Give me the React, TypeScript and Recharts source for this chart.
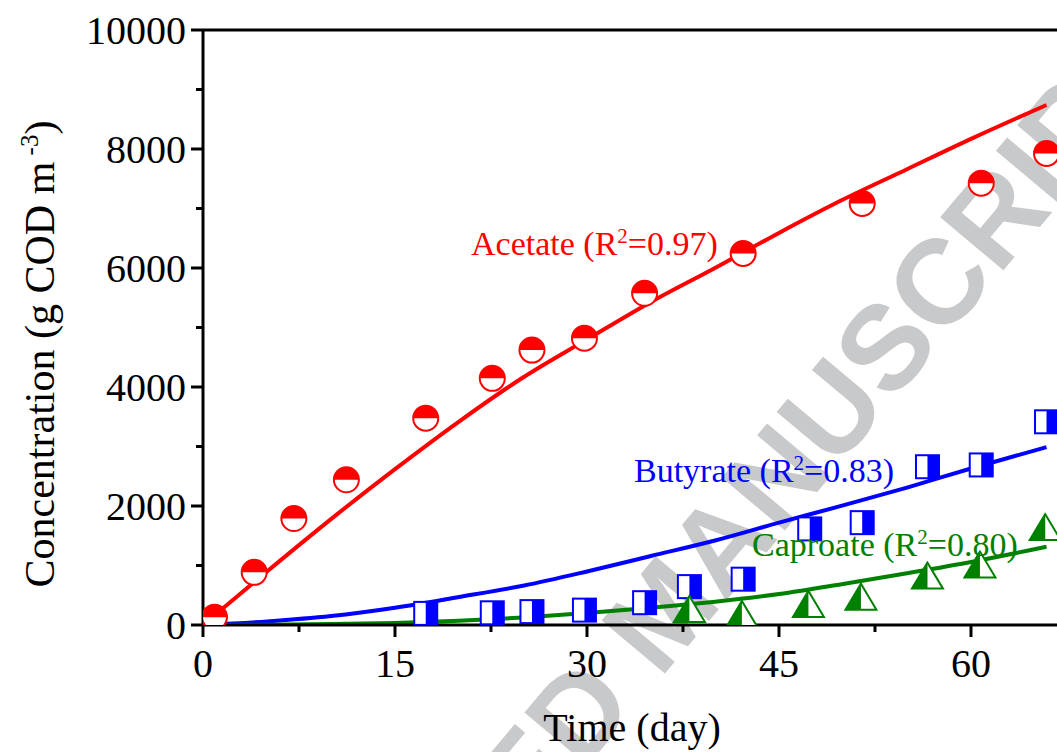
import React from 'react'
import {
  ComposedChart,
  Line,
  Scatter,
  XAxis,
  YAxis,
  ReferenceLine,
} from 'recharts'

// measured points (day, g COD m-3)
const acetateDays = [0.9, 4.0, 7.1, 11.2, 17.4, 22.6, 25.7, 29.8, 34.5, 42.2, 51.5, 60.8, 65.9]
const acetateObs = [130, 885, 1790, 2440, 3475, 4145, 4620, 4820, 5575, 6245, 7085, 7425, 7925]

const butyrateDays = [17.4, 22.6, 25.7, 29.8, 34.5, 38.0, 42.2, 47.4, 51.5, 56.6, 60.8, 65.9]
const butyrateObs = [195, 205, 225, 250, 375, 645, 770, 1615, 1720, 2660, 2690, 3415]

const caproateDays = [38.0, 42.1, 47.3, 51.4, 56.6, 60.7, 65.8]
const caproateObs = [270, 185, 355, 475, 830, 1015, 1645]

// model curves
const fitDays = [0, 5, 10, 15, 20, 25, 30, 35, 40, 45, 50, 55, 60, 65.9]
const acetateFit = [0, 900, 1780, 2620, 3420, 4160, 4800, 5430, 6000, 6590, 7150, 7660, 8170, 8740]
const butyrateFit = [0, 60, 150, 290, 470, 660, 900, 1160, 1420, 1720, 2010, 2310, 2630, 2990]
const caproateFit = [0, 5, 15, 35, 70, 125, 200, 290, 390, 520, 690, 870, 1060, 1316]

const xTicks = [0, 7.5, 15, 22.5, 30, 37.5, 45, 52.5, 60, 67.5]
const yTicks = [0, 1000, 2000, 3000, 4000, 5000, 6000, 7000, 8000, 9000, 10000]

const RED = '#ff0000'
const BLUE = '#0000ff'
const GREEN = '#008000'
const SERIF = "'Liberation Serif', 'Times New Roman', serif"

const zip = (days: number[], vals: number[]) =>
  days.map((d, i) => ({ day: d, value: vals[i] }))

const acetatePts = zip(acetateDays, acetateObs)
const butyratePts = zip(butyrateDays, butyrateObs)
const caproatePts = zip(caproateDays, caproateObs)
const acetateLine = zip(fitDays, acetateFit)
const butyrateLine = zip(fitDays, butyrateFit)
const caproateLine = zip(fitDays, caproateFit)

const HalfCircle = (props: any) => {
  const { cx, cy } = props
  const r = 12.5
  return (
    <g>
      <circle cx={cx} cy={cy} r={r} fill="#fff" stroke={RED} strokeWidth={2} />
      <path d={`M${cx - r},${cy} A${r},${r} 0 0 1 ${cx + r},${cy} Z`} fill={RED} />
    </g>
  )
}

const HalfSquare = (props: any) => {
  const { cx, cy } = props
  const s = 23
  return (
    <g>
      <rect x={cx - s / 2} y={cy - s / 2} width={s} height={s} fill="#fff" stroke={BLUE} strokeWidth={2} />
      <rect x={cx} y={cy - s / 2} width={s / 2} height={s} fill={BLUE} />
    </g>
  )
}

const HalfTriangle = (props: any) => {
  const { cx, cy } = props
  const w = 31
  const h = 26
  return (
    <g>
      <polygon
        points={`${cx},${cy - h / 2} ${cx - w / 2},${cy + h / 2} ${cx + w / 2},${cy + h / 2}`}
        fill="#fff"
        stroke={GREEN}
        strokeWidth={2}
      />
      <polygon points={`${cx},${cy - h / 2} ${cx - w / 2},${cy + h / 2} ${cx},${cy + h / 2}`} fill={GREEN} />
    </g>
  )
}

const XTick = (props: any) => {
  const { x, y, payload } = props
  const major = payload.value % 15 === 0
  return (
    <g>
      <line x1={x} y1={y} x2={x} y2={y + (major ? 12 : 7)} stroke="#000" strokeWidth={3} />
      {major && (
        <text x={x} y={y + 52} textAnchor="middle" fontSize={40} fontFamily={SERIF} fill="#000">
          {payload.value}
        </text>
      )}
    </g>
  )
}

const YTick = (props: any) => {
  const { x, y, payload } = props
  const major = payload.value % 2000 === 0
  return (
    <g>
      <line x1={x} y1={y} x2={x - (major ? 12 : 7)} y2={y} stroke="#000" strokeWidth={3} />
      {major && (
        <text x={x - 17} y={y + 14} textAnchor="end" fontSize={40} fontFamily={SERIF} fill="#000">
          {payload.value}
        </text>
      )}
    </g>
  )
}

export default function App() {
  return (
    <div
      style={{
        position: 'absolute',
        left: 0,
        top: 0,
        width: 1057,
        height: 752,
        overflow: 'hidden',
        background: '#fff',
      }}
    >
      {/* watermark behind the plot */}
      <svg width={1057} height={752} style={{ position: 'absolute', left: 0, top: 0 }}>
        <text
          x={214}
          y={1211}
          transform="rotate(-50 214 1211)"
          fontSize={120}
          fontWeight="bold"
          fontFamily="'Liberation Sans', Arial, sans-serif"
          fill="#c8c9cb"
        >
          ACCEPTED MANUSCRIPT
        </text>
      </svg>

      <div style={{ position: 'absolute', left: 0, top: 0 }}>
        <ComposedChart width={1109} height={752} margin={{ top: 30, right: 10, bottom: 0, left: 0 }}>
          <XAxis
            xAxisId="main"
            dataKey="day"
            type="number"
            domain={[0, 70]}
            ticks={xTicks}
            interval={0}
            height={127}
            tickSize={0}
            tickMargin={0}
            tickLine={false}
            tick={<XTick />}
            axisLine={{ stroke: '#000', strokeWidth: 3 }}
            allowDataOverflow
          />
          <YAxis
            yAxisId="y"
            dataKey="value"
            type="number"
            domain={[0, 10000]}
            ticks={yTicks}
            interval={0}
            width={203}
            tickSize={0}
            tickMargin={0}
            tickLine={false}
            tick={<YTick />}
            axisLine={{ stroke: '#000', strokeWidth: 3 }}
            allowDataOverflow
          />
          <ReferenceLine xAxisId="main" yAxisId="y" y={10000} stroke="#000" strokeWidth={3} />

          <Scatter xAxisId="main" yAxisId="y" data={acetatePts} dataKey="value" shape={HalfCircle} isAnimationActive={false} />
          <Scatter xAxisId="main" yAxisId="y" data={butyratePts} dataKey="value" shape={HalfSquare} isAnimationActive={false} />
          <Scatter xAxisId="main" yAxisId="y" data={caproatePts} dataKey="value" shape={HalfTriangle} isAnimationActive={false} />

          <Line xAxisId="main" yAxisId="y" data={acetateLine} dataKey="value" type="monotone" stroke={RED} strokeWidth={4} dot={false} isAnimationActive={false} />
          <Line xAxisId="main" yAxisId="y" data={butyrateLine} dataKey="value" type="monotone" stroke={BLUE} strokeWidth={4} dot={false} isAnimationActive={false} />
          <Line xAxisId="main" yAxisId="y" data={caproateLine} dataKey="value" type="monotone" stroke={GREEN} strokeWidth={4} dot={false} isAnimationActive={false} />
        </ComposedChart>
      </div>

      {/* titles and series labels */}
      <svg width={1057} height={752} style={{ position: 'absolute', left: 0, top: 0, pointerEvents: 'none' }} fontFamily={SERIF}>
        <text transform="translate(54 354) rotate(-90)" textAnchor="middle" fontSize={42} fill="#000">
          Concentration (g COD m
          <tspan dy={-16} fontSize={25}> -3</tspan>
          <tspan dy={16}>)</tspan>
        </text>
        <text x={632} y={741} textAnchor="middle" fontSize={40} fill="#000">
          Time (day)
        </text>
        <text x={471} y={255} fontSize={34} fill={RED}>
          Acetate (R<tspan dy={-12} fontSize={21}>2</tspan>
          <tspan dy={12}>=0.97)</tspan>
        </text>
        <text x={634} y={482} fontSize={34} fill={BLUE}>
          Butyrate (R<tspan dy={-12} fontSize={21}>2</tspan>
          <tspan dy={12}>=0.83)</tspan>
        </text>
        <text x={752} y={556} fontSize={34} fill={GREEN}>
          Caproate (R<tspan dy={-12} fontSize={21}>2</tspan>
          <tspan dy={12}>=0.80)</tspan>
        </text>
      </svg>
    </div>
  )
}
